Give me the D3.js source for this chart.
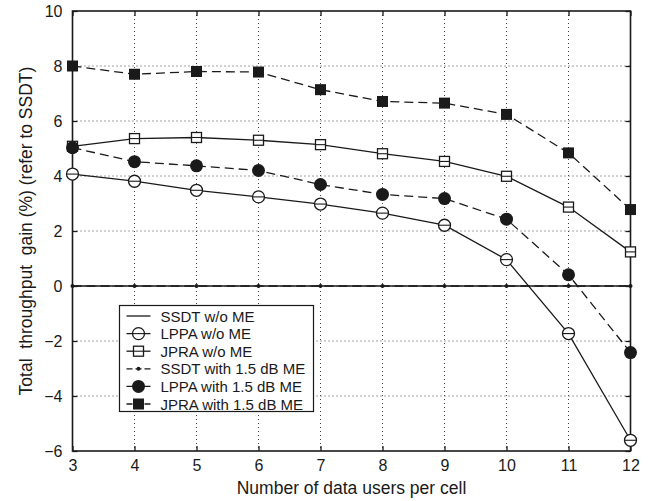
<!DOCTYPE html>
<html>
<head>
<meta charset="utf-8">
<script src="https://cdn.jsdelivr.net/npm/d3@7"></script>
<style>
  body { margin: 0; background: #fff; }
  svg { font-family: "Liberation Sans", Arial, sans-serif; }
</style>
</head>
<body>
<div id="chart"></div>
<script>
const w = 649;
const h = 501;

// data
const users = [3, 4, 5, 6, 7, 8, 9, 10, 11, 12];
const ssdtNoME = [0, 0, 0, 0, 0, 0, 0, 0, 0, 0];
const lppaNoME = [4.07, 3.81, 3.48, 3.24, 2.98, 2.65, 2.21, 0.96, -1.73, -5.61];
const jpraNoME = [5.08, 5.36, 5.4, 5.3, 5.14, 4.81, 4.53, 3.99, 2.87, 1.24];
const ssdtME = [0, 0, 0, 0, 0, 0, 0, 0, 0, 0];
const lppaME = [5.03, 4.52, 4.37, 4.2, 3.69, 3.33, 3.18, 2.43, 0.41, -2.42];
const jpraME = [8.0, 7.7, 7.8, 7.78, 7.14, 6.71, 6.65, 6.24, 4.84, 2.78];
const yTicks = [-6, -4, -2, 0, 2, 4, 6, 8, 10];

const series = [
  { name: "SSDT w/o ME", values: ssdtNoME, dash: null, marker: "none" },
  { name: "LPPA w/o ME", values: lppaNoME, dash: null, marker: "ocircle" },
  { name: "JPRA w/o ME", values: jpraNoME, dash: null, marker: "osquare" },
  { name: "SSDT with 1.5 dB ME", values: ssdtME, dash: "9,5", marker: "dot" },
  { name: "LPPA with 1.5 dB ME", values: lppaME, dash: "9,5", marker: "fcircle" },
  { name: "JPRA with 1.5 dB ME", values: jpraME, dash: "9,5", marker: "fsquare" }
];

const margin = { left: 72.5, right: 18.5, top: 11, bottom: 50 };
const ink = "#1a1a1a";

const svg = d3.select("#chart").append("svg")
  .attr("width", w)
  .attr("height", h);

const x = d3.scaleLinear().domain([3, 12]).range([margin.left, w - margin.right]);
const y = d3.scaleLinear().domain([-6, 10]).range([h - margin.bottom, margin.top]);

// grid
const grid = svg.append("g");
grid.selectAll(".gx").data(users.slice(1, -1)).enter().append("line")
  .attr("x1", d => x(d)).attr("x2", d => x(d))
  .attr("y1", y(10)).attr("y2", y(-6))
  .attr("stroke", "#444").attr("stroke-width", 1).attr("stroke-dasharray", "1,3");
grid.selectAll(".gy").data(yTicks.slice(1, -1)).enter().append("line")
  .attr("x1", x(3)).attr("x2", x(12))
  .attr("y1", d => y(d)).attr("y2", d => y(d))
  .attr("stroke", "#444").attr("stroke-width", 1).attr("stroke-dasharray", "1,3");

// axes
svg.append("g")
  .attr("transform", `translate(0,${y(-6)})`)
  .call(d3.axisBottom(x).tickValues(users).tickSizeInner(-5).tickSizeOuter(0).tickPadding(9))
  .call(g => g.select(".domain").remove())
  .call(g => g.selectAll("line").attr("stroke", ink).attr("stroke-width", 1.3))
  .call(g => g.selectAll("text").attr("font-size", 16).attr("fill", ink)
    .attr("font-family", "'Liberation Sans', Arial, sans-serif"));

svg.append("g")
  .attr("transform", `translate(${x(3)},0)`)
  .call(d3.axisLeft(y).tickValues(yTicks).tickSizeInner(-5).tickSizeOuter(0).tickPadding(10)
    .tickFormat(d => d < 0 ? "\u2212" + Math.abs(d) : d))
  .call(g => g.select(".domain").remove())
  .call(g => g.selectAll("line").attr("stroke", ink).attr("stroke-width", 1.3))
  .call(g => g.selectAll("text").attr("font-size", 16).attr("fill", ink)
    .attr("font-family", "'Liberation Sans', Arial, sans-serif"));

// right & top ticks
svg.append("g")
  .attr("transform", `translate(${x(12)},0)`)
  .call(d3.axisRight(y).tickValues(yTicks).tickSizeInner(-5).tickSizeOuter(0).tickFormat(""))
  .call(g => g.select(".domain").remove())
  .call(g => g.selectAll("line").attr("stroke", ink).attr("stroke-width", 1.3));
svg.append("g")
  .attr("transform", `translate(0,${y(10)})`)
  .call(d3.axisTop(x).tickValues(users).tickSizeInner(-5).tickSizeOuter(0).tickFormat(""))
  .call(g => g.select(".domain").remove())
  .call(g => g.selectAll("line").attr("stroke", ink).attr("stroke-width", 1.3));

// frame
svg.append("rect")
  .attr("x", x(3)).attr("y", y(10))
  .attr("width", x(12) - x(3)).attr("height", y(-6) - y(10))
  .attr("fill", "none").attr("stroke", ink).attr("stroke-width", 1.6);

// lines
const line = d3.line().x((d, i) => x(users[i])).y(d => y(d));

function drawMarker(g, type, cx, cy) {
  if (type === "ocircle") {
    g.append("circle").attr("cx", cx).attr("cy", cy).attr("r", 6)
      .attr("fill", "#fff").attr("stroke", ink).attr("stroke-width", 1.3);
    g.append("line").attr("x1", cx - 6).attr("x2", cx + 6).attr("y1", cy).attr("y2", cy)
      .attr("stroke", ink).attr("stroke-width", 1.1);
  } else if (type === "fcircle") {
    g.append("circle").attr("cx", cx).attr("cy", cy).attr("r", 6.5).attr("fill", ink);
  } else if (type === "osquare") {
    g.append("rect").attr("x", cx - 5).attr("y", cy - 5).attr("width", 10).attr("height", 10)
      .attr("fill", "#fff").attr("stroke", ink).attr("stroke-width", 1.3);
    g.append("line").attr("x1", cx - 5).attr("x2", cx + 5).attr("y1", cy).attr("y2", cy)
      .attr("stroke", ink).attr("stroke-width", 1.1);
  } else if (type === "fsquare") {
    g.append("rect").attr("x", cx - 5.5).attr("y", cy - 5.5).attr("width", 11).attr("height", 11)
      .attr("fill", ink);
  } else if (type === "dot") {
    g.append("circle").attr("cx", cx).attr("cy", cy).attr("r", 2).attr("fill", ink);
  }
}

series.forEach(s => {
  svg.append("path")
    .datum(s.values)
    .attr("d", line)
    .attr("fill", "none")
    .attr("stroke", ink)
    .attr("stroke-width", 1.3)
    .attr("stroke-dasharray", s.dash);
});
series.forEach(s => {
  const g = svg.append("g");
  s.values.forEach((v, i) => drawMarker(g, s.marker, x(users[i]), y(v)));
});

// legend
const lg = svg.append("g").attr("transform", "translate(119.5,305.5)");
lg.append("rect").attr("width", 194).attr("height", 106)
  .attr("fill", "#fff").attr("stroke", ink).attr("stroke-width", 1.2);
series.forEach((s, i) => {
  const cy = 10.5 + i * 17.6;
  lg.append("line").attr("x1", 7).attr("x2", 31).attr("y1", cy).attr("y2", cy)
    .attr("stroke", ink).attr("stroke-width", 1.3).attr("stroke-dasharray", s.dash ? "6,3" : null);
  drawMarker(lg, s.marker, 19, cy);
  lg.append("text").attr("x", 41).attr("y", cy + 5.5)
    .attr("font-size", 15).attr("fill", ink).text(s.name);
});

// axis titles
svg.append("text")
  .attr("x", (x(3) + x(12)) / 2).attr("y", 494)
  .attr("text-anchor", "middle").attr("font-size", 17.5).attr("fill", ink)
  .text("Number of data users per cell");
svg.append("text")
  .attr("transform", `translate(32,${(y(10) + y(-6)) / 2}) rotate(-90)`)
  .attr("text-anchor", "middle").attr("font-size", 17.5).attr("fill", ink)
  .attr("xml:space", "preserve")
  .text("Total  throughput  gain (%) (refer to SSDT)");
</script>
</body>
</html>
